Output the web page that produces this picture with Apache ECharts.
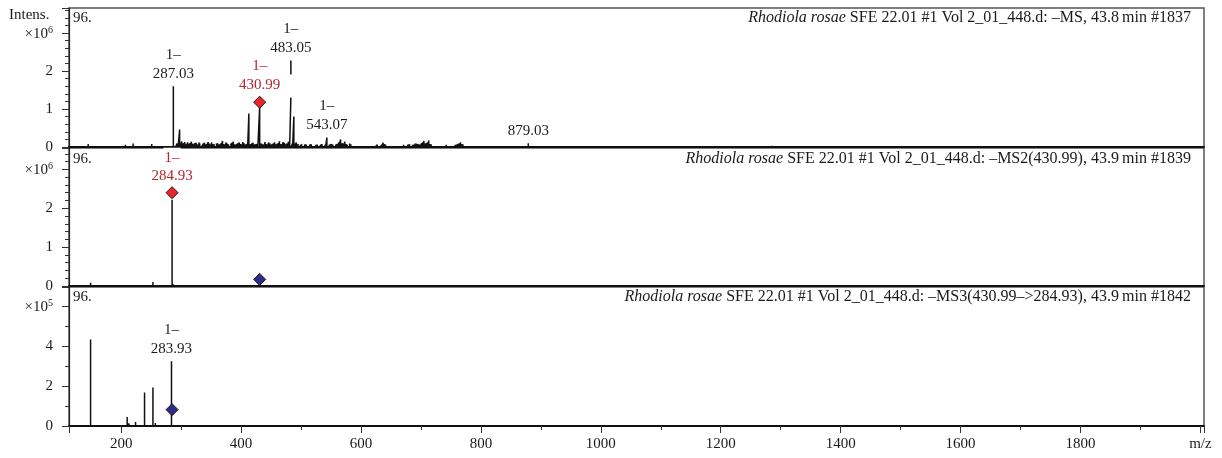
<!DOCTYPE html>
<html>
<head>
<meta charset="utf-8">
<script src="https://cdn.jsdelivr.net/npm/echarts@6/dist/echarts.min.js"></script>
<style>
  html, body { margin: 0; padding: 0; background: #fff; }
  #main { width: 1222px; height: 458px; }
</style>
</head>
<body>
<div id="main"></div>
<script>
// m/z range shared by the three panels
const mzRange = [113, 2006];

// MS scan, [m/z, intensity x1e6]
const msPeaks = [
  [287.03, 1.60], [297.5, 0.46], [413.0, 0.88], [430.99, 1.05],
  [483.05, 2.28], [488.0, 0.80], [543.07, 0.25], [879.03, 0.10]
];
const msNoise = [
  [128, 0.03], [145, 0.08], [150, 0.05], [173, 0.05], [191, 0.03], [207, 0.06], [213, 0.04],
  [220, 0.09], [241, 0.05], [251, 0.08], [258, 0.04], [264, 0.03], [270, 0.04], [276, 0.03],
  [291, 0.05], [293, 0.09], [295, 0.07], [299, 0.10], [301, 0.15], [302, 0.06], [304, 0.10],
  [306, 0.13], [308, 0.06], [309, 0.08], [311, 0.12], [313, 0.05], [314, 0.08], [315, 0.10],
  [317, 0.14], [319, 0.09], [320, 0.07], [321, 0.05], [323, 0.10], [325, 0.11], [327, 0.06],
  [329, 0.07], [330, 0.12], [331, 0.09], [333, 0.05], [335, 0.06], [337, 0.09], [339, 0.11],
  [341, 0.07], [343, 0.08], [345, 0.13], [347, 0.09], [349, 0.06], [351, 0.12], [353, 0.08],
  [355, 0.07], [357, 0.05], [359, 0.09], [361, 0.10], [363, 0.06], [365, 0.07], [367, 0.10],
  [369, 0.16], [371, 0.08], [373, 0.06], [375, 0.12], [377, 0.09], [379, 0.07], [381, 0.05],
  [383, 0.09], [385, 0.11], [387, 0.14], [389, 0.07], [391, 0.06], [393, 0.08], [395, 0.10],
  [397, 0.12], [399, 0.08], [401, 0.06], [403, 0.13], [405, 0.10], [407, 0.06], [409, 0.07],
  [411, 0.09], [416, 0.07], [418, 0.09], [420, 0.11], [422, 0.06], [424, 0.07], [426, 0.08],
  [428, 0.06], [434, 0.09], [436, 0.07], [438, 0.06], [440, 0.13], [442, 0.08], [444, 0.06],
  [446, 0.12], [448, 0.10], [450, 0.06], [452, 0.07], [454, 0.09], [456, 0.12], [458, 0.07],
  [460, 0.08], [462, 0.10], [464, 0.15], [466, 0.08], [468, 0.07], [470, 0.13], [472, 0.11],
  [474, 0.07], [476, 0.09], [478, 0.08], [479, 0.14], [481, 0.06], [486, 0.10], [490, 0.09],
  [492, 0.12], [494, 0.06], [495, 0.08], [497, 0.05], [499, 0.06], [501, 0.07], [503, 0.05],
  [505, 0.05], [507, 0.07], [509, 0.06], [511, 0.04], [513, 0.05], [515, 0.06], [517, 0.07],
  [519, 0.05], [521, 0.05], [523, 0.04], [525, 0.06], [527, 0.06], [529, 0.04], [531, 0.05],
  [533, 0.06], [535, 0.07], [537, 0.05], [539, 0.05], [541, 0.06], [545, 0.05], [547, 0.06],
  [549, 0.07], [551, 0.08], [553, 0.06], [555, 0.05], [557, 0.05], [559, 0.07], [561, 0.08],
  [563, 0.12], [566, 0.20], [569, 0.10], [571, 0.09], [573, 0.14], [575, 0.08], [577, 0.06],
  [579, 0.05], [581, 0.09], [583, 0.07], [585, 0.05], [588, 0.04], [590, 0.04], [593, 0.05],
  [595, 0.05], [598, 0.04], [600, 0.04], [603, 0.05], [605, 0.05], [608, 0.04], [610, 0.04],
  [613, 0.05], [616, 0.05], [619, 0.04], [621, 0.04], [624, 0.05], [627, 0.06], [630, 0.04],
  [632, 0.05], [635, 0.06], [637, 0.11], [639, 0.08], [641, 0.06], [644, 0.05], [646, 0.05],
  [649, 0.04], [651, 0.04], [654, 0.05], [656, 0.05], [659, 0.04], [661, 0.04], [664, 0.05],
  [666, 0.05], [669, 0.04], [671, 0.06], [674, 0.05], [676, 0.05], [679, 0.06], [681, 0.07],
  [684, 0.05], [686, 0.06], [689, 0.06], [691, 0.09], [694, 0.08], [696, 0.07], [699, 0.06],
  [701, 0.10], [703, 0.12], [705, 0.16], [707, 0.09], [709, 0.10], [711, 0.12], [713, 0.17],
  [715, 0.08], [717, 0.07], [720, 0.05], [722, 0.05], [725, 0.04], [727, 0.04], [730, 0.05],
  [732, 0.05], [735, 0.04], [737, 0.04], [740, 0.05], [742, 0.06], [745, 0.04], [747, 0.05],
  [750, 0.05], [752, 0.04], [755, 0.04], [757, 0.06], [760, 0.06], [762, 0.08], [764, 0.09],
  [766, 0.12], [768, 0.08], [770, 0.07], [773, 0.05], [775, 0.05], [778, 0.04], [780, 0.04],
  [783, 0.05], [786, 0.05], [789, 0.04], [792, 0.04], [795, 0.04], [798, 0.05], [801, 0.04],
  [804, 0.04], [807, 0.03], [810, 0.03], [885, 0.03], [901, 0.04], [907, 0.03], [934, 0.03],
  [939, 0.03], [944, 0.03], [1064, 0.03], [1176, 0.03], [1285, 0.03]
];
// the 483.05 line is broken between these heights
const msGap = [483.05, 1.30, 1.91];

// MS2(430.99), intensity x1e6
const ms2Peaks = [[149, 0.085], [239, 0.03], [253, 0.10], [284.93, 2.22], [287, 0.05]];

// MS3(430.99->284.93), intensity x1e5
const ms3Peaks = [
  [149, 4.34], [160, 0.08], [166, 0.06], [196, 0.08], [210, 0.45], [213, 0.12],
  [224, 0.20], [239, 1.68], [253, 1.93], [257, 0.15], [283.93, 3.25]
];

// peak annotations: [m/z, height, charge, m/z text]
const msLabels = [
  [287.03, 1.60, '1–', '287.03'], [483.05, 2.28, '1–', '483.05'],
  [543.07, 0.25, '1–', '543.07'], [879.03, 0.10, '', '879.03']
];
const ms3Labels = [[283.93, 3.25, '1–', '283.93']];

// precursor (red) and isolated ion (blue) markers
const msPrecursor = [[430.99, 1.18, '1–', '430.99']];
const ms2Precursor = [[284.93, 2.40, '1–', '284.93']];
const ms2Isolated = [[430.99, 0.17]];
const ms3Isolated = [[284.93, 0.82]];

const titles = [
  '{i|Rhodiola rosae} SFE 22.01 #1 Vol 2_01_448.d: –MS, 43.8\u2009min #1837',
  '{i|Rhodiola rosae} SFE 22.01 #1 Vol 2_01_448.d: –MS2(430.99), 43.9\u2009min #1839',
  '{i|Rhodiola rosae} SFE 22.01 #1 Vol 2_01_448.d: –MS3(430.99–>284.93), 43.9\u2009min #1842'
];

const FONT = 'Liberation Serif';
const INK = '#1a1a1a';
const RED = '#b3262c';

function sticks(peaks, gap) {
  const pts = [];
  peaks.slice().sort((a, b) => a[0] - b[0]).forEach(p => {
    if (gap && p[0] === gap[0]) {
      pts.push([p[0], 0], [p[0], gap[1]], [p[0], '-'], [p[0], gap[2]], [p[0], p[1]], [p[0], '-'], [p[0], 0]);
    } else {
      pts.push([p[0], 0], [p[0], p[1]], [p[0], 0]);
    }
  });
  return pts;
}

const grids = [
  { left: 69, right: 18, top: 8, height: 139 },
  { left: 69, right: 18, top: 148, height: 138 },
  { left: 69, right: 18, top: 287, height: 139 }
];

function xAxis(i) {
  const last = i === 2;
  return {
    type: 'value', gridIndex: i, min: mzRange[0], max: mzRange[1], splitNumber: 10,
    splitLine: { show: false },
    axisLine: { onZero: false, lineStyle: { color: '#111', width: 1.8 } },
    axisTick: { show: last, length: 7, lineStyle: { color: '#333' } },
    minorTick: { show: last, splitNumber: 2, length: 4, lineStyle: { color: '#333' } },
    axisLabel: {
      show: last, margin: 11, fontFamily: FONT, fontSize: 15, color: INK,
      formatter: v => v === 2000 ? 'm/z' : (v % 200 === 0 ? String(v) : '')
    }
  };
}

function yAxis(i, max, step, minor, exp) {
  return {
    type: 'value', gridIndex: i, min: 0, max: max, interval: step,
    splitLine: { show: false },
    axisLine: { lineStyle: { color: '#222', width: 1.2 } },
    axisTick: { length: 7, lineStyle: { color: '#333' } },
    minorTick: { show: true, splitNumber: minor, length: 4, lineStyle: { color: '#333' } },
    axisLabel: {
      margin: 16, fontFamily: FONT, fontSize: 15, color: INK,
      formatter: v => {
        if (v === step * 3) return '{a|×10}{b|' + exp + '}';
        return (v % step === 0 && v < step * 3) ? String(v) : '';
      },
      rich: {
        a: { fontFamily: FONT, fontSize: 15, color: INK, verticalAlign: 'bottom', lineHeight: 16 },
        b: { fontFamily: FONT, fontSize: 10, color: INK, verticalAlign: 'top', lineHeight: 16, padding: [0, 0, 8, 0] }
      }
    }
  };
}

function stickSeries(i, data) {
  return {
    type: 'line', xAxisIndex: i, yAxisIndex: i, data: data, showSymbol: false, symbol: 'none',
    lineStyle: { color: '#111', width: 1.5 }, connectNulls: false, silent: true, z: 2
  };
}

function labelSeries(i, items, color, rich) {
  return {
    type: 'scatter', xAxisIndex: i, yAxisIndex: i, symbolSize: 1, z: 5,
    itemStyle: { color: 'rgba(0,0,0,0)', opacity: 1 },
    data: items.map(d => ({
      value: [d[0], d[1]],
      label: {
        show: true, position: 'top', distance: 2,
        formatter: d[2] ? '{c|' + d[2] + '}\n' + d[3] : d[3]
      }
    })),
    label: {
      fontFamily: FONT, fontSize: 15, lineHeight: 19, color: color, align: 'center', opacity: 1,
      rich: { c: Object.assign({ fontFamily: FONT, fontSize: 15, lineHeight: 19, color: color }, rich || {}) }
    }
  };
}

function diamondSeries(i, items, fill, labelled, rich) {
  return {
    type: 'scatter', xAxisIndex: i, yAxisIndex: i, symbol: 'diamond', symbolSize: 12, z: 6,
    itemStyle: { color: fill, borderColor: '#2a1010', borderWidth: 1, opacity: 1 },
    data: items.map(d => ({
      value: [d[0], d[1]],
      label: labelled ? { show: true, formatter: '{c|' + d[2] + '}\n' + d[3] } : { show: false }
    })),
    label: {
      position: 'top', distance: 1, fontFamily: FONT, fontSize: 15, lineHeight: 19, color: RED, align: 'center', opacity: 1,
      rich: { c: Object.assign({ fontFamily: FONT, fontSize: 15, lineHeight: 19, color: RED }, rich || {}) }
    }
  };
}

const titleBase = { fontFamily: FONT, fontSize: 16, fontWeight: 'normal', color: INK, lineHeight: 18 };
const titleTops = [9, 150, 288];

const option = {
  animation: false,
  backgroundColor: '#fff',
  title: [
    { text: 'Intens.', left: 9, top: 6, padding: 0, textStyle: Object.assign({}, titleBase, { fontSize: 15 }) }
  ].concat(titleTops.map((t, i) => ({
    text: '96.', left: 73, top: t, padding: 0, textStyle: Object.assign({}, titleBase, { fontSize: 15 })
  }))).concat(titleTops.map((t, i) => ({
    text: titles[i], right: 31, top: t, padding: 0,
    textStyle: Object.assign({}, titleBase, {
      rich: { i: Object.assign({}, titleBase, { fontStyle: 'italic' }) }
    })
  }))),
  grid: grids.map(g => Object.assign({ show: true, borderColor: '#555', borderWidth: 1.5 }, g)),
  xAxis: [xAxis(0), xAxis(1), xAxis(2)],
  yAxis: [yAxis(0, 3.66, 1, 5, 6), yAxis(1, 3.55, 1, 5, 6), yAxis(2, 6.97, 2, 2, 5)],
  series: [
    stickSeries(0, sticks(msPeaks.concat(msNoise), msGap)),
    stickSeries(1, sticks(ms2Peaks)),
    stickSeries(2, sticks(ms3Peaks)),
    labelSeries(0, msLabels, INK),
    labelSeries(2, ms3Labels, INK),
    diamondSeries(0, msPrecursor, '#e8262b', true),
    diamondSeries(1, ms2Precursor, '#e8262b', true, { backgroundColor: '#fff', padding: [3, 1, 0, 1] }),
    diamondSeries(1, ms2Isolated, '#2b2b8c', false),
    diamondSeries(2, ms3Isolated, '#2b2b8c', false)
  ]
};

const chart = echarts.init(document.getElementById('main'));
chart.setOption(option);
</script>
</body>
</html>
